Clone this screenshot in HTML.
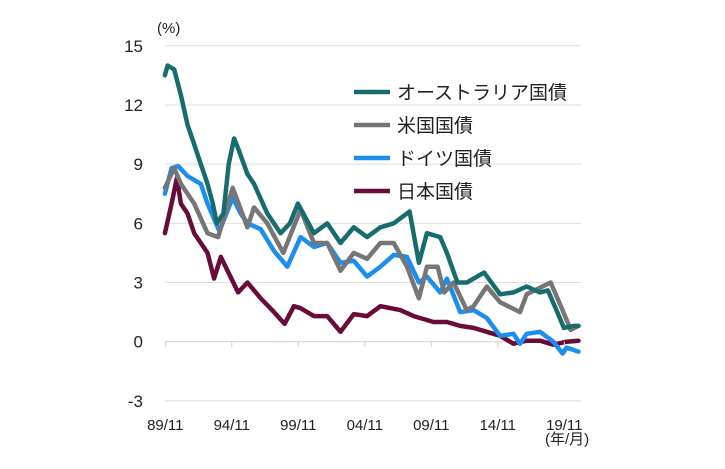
<!DOCTYPE html>
<html><head><meta charset="utf-8"><style>
body{margin:0;background:#fff;}
svg text{font-family:"Liberation Sans","Noto Sans CJK JP",sans-serif;fill:#222;}
</style></head><body>
<svg id="c" width="725" height="464" xmlns="http://www.w3.org/2000/svg">
<g id="grid"></g><g id="lines"></g><g id="axes"></g>
<text x="157" y="33" font-size="15">(%)</text>
<text x="545" y="444" font-size="15">(年/月)</text>
<g id="legend"></g>
</svg>
<script>
const yTicks=[15,12,9,6,3,0,-3];
const xTickLabels=["89/11","94/11","99/11","04/11","09/11","14/11","19/11"];
const xTickYears=[1989.83,1994.83,1999.83,2004.83,2009.83,2014.83,2019.83];
const seriesNames=["オーストラリア国債","米国国債","ドイツ国債","日本国債"];
const colors=["#176d6e","#767676","#1b8ef0","#6a0c3a"];
const ausYears=[1989.8,1990,1990.5,1991,1991.5,1992,1992.5,1993,1993.4,1993.7,1994.2,1994.6,1995,1995.3,1996,1996.5,1997.5,1998.5,1999.2,1999.8,2001,2002,2003,2004,2005,2006,2007,2008.2,2008.9,2009.5,2010.5,2011,2011.8,2012.5,2013.8,2015,2016,2017,2018,2018.6,2019.3,2019.8,2020.5,2020.9];
const ausVals=[13.5,14,13.8,12.5,11,10,9,8,7,6,6.5,9,10.3,9.8,8.5,8,6.5,5.5,6,7,5.5,6,5,5.8,5.3,5.8,6,6.6,4,5.5,5.3,4.5,3,3,3.5,2.4,2.5,2.8,2.5,2.6,1.5,0.7,0.8,0.8];
const usYears=[1989.8,1990.5,1991,1992,1993,1993.8,1994.9,1996,1996.5,1997.5,1998.7,2000,2001,2002,2003,2004,2005,2006,2007,2008,2008.9,2009.5,2010.3,2010.8,2011.5,2012.5,2013,2014,2015,2016.5,2017,2018.8,2019.7,2020.3,2020.9];
const usVals=[7.8,8.8,8,7,5.5,5.3,7.8,5.8,6.8,6,4.5,6.7,5,5,3.6,4.5,4.2,5,5,3.8,2.2,3.8,3.8,2.5,3,1.6,1.8,2.8,2,1.5,2.4,3,1.6,0.6,0.8];
const deYears=[1989.8,1990.3,1990.8,1991.5,1992.5,1993,1993.9,1994.9,1995.5,1996,1997,1998,1999,2000,2001,2002,2003,2004,2005,2006,2007,2008,2008.9,2009.5,2010.5,2011,2012,2013,2014,2015,2016,2016.5,2017,2018,2019,2019.7,2020,2020.9];
const deVals=[7.5,8.8,8.9,8.4,8,7,5.6,7.3,6.5,6,5.7,4.6,3.8,5.3,4.8,5,4,4.1,3.3,3.8,4.4,4.3,3,3.3,2.5,3.2,1.5,1.6,1.2,0.3,0.4,-0.1,0.4,0.5,0,-0.6,-0.3,-0.5];
const jpYears=[1989.8,1990.3,1990.7,1991,1991.5,1992,1993,1993.5,1994,1995.3,1996,1997,1998,1998.8,1999.5,2000,2001,2002,2003,2004,2005,2006,2007.5,2008.5,2010,2011,2012,2013,2014,2015,2016,2017,2018,2019,2020,2020.9];
const jpVals=[5.5,7,8.3,7,6.5,5.5,4.5,3.2,4.3,2.5,3,2.2,1.5,0.9,1.8,1.7,1.3,1.3,0.5,1.4,1.3,1.8,1.6,1.3,1.0,1.0,0.8,0.7,0.5,0.3,-0.1,0.05,0.05,-0.15,0.0,0.05];
const NS="http://www.w3.org/2000/svg";
function X(yr){return 165.3+(yr-1989.83)*13.3;}
function Y(v){return 341.7-v*19.73;}
function mk(tag,attrs,parent){const e=document.createElementNS(NS,tag);for(const k in attrs)e.setAttribute(k,attrs[k]);parent.appendChild(e);return e;}
const grid=document.getElementById('grid'),axes=document.getElementById('axes'),lines=document.getElementById('lines'),legend=document.getElementById('legend');
yTicks.forEach(t=>{
  const l=mk('line',{x1:165,x2:581,y1:Y(t),y2:Y(t),stroke:t===0?'#d0d0d0':'#dedede','stroke-width':1},grid);
  
  
  const tx=mk('text',{x:143,y:Y(t)+6,'font-size':17,'text-anchor':'end'},axes);
  tx.textContent=t;
  
  
});
xTickYears.forEach((yr,i)=>{
  const tk=mk('line',{x1:X(yr),x2:X(yr),y1:341.7,y2:347,stroke:'#d0d0d0'},axes);
  
  
  const tx=mk('text',{x:X(yr),y:430,'font-size':15,'text-anchor':'middle'},axes);
  tx.textContent=xTickLabels[i];
  
  
});
const all=[[ausYears,ausVals],[usYears,usVals],[deYears,deVals],[jpYears,jpVals]];
const names=['line-australia','line-us','line-germany','line-japan'];
for(let s=3;s>=0;s--){
  const [ys,vs]=all[s];
  const d=ys.map((y,i)=>(i?'L':'M')+X(y).toFixed(1)+','+Y(vs[i]).toFixed(1)).join('');
  const p=mk('path',{d:d,fill:'none',stroke:colors[s],'stroke-width':4.5,'stroke-linejoin':'round','stroke-linecap':'round'},lines);
  
  
}
seriesNames.forEach((n,i)=>{
  const y=88+i*33;
  const g=mk('g',{},legend);
  
  
  mk('line',{x1:354,x2:390,y1:y+4,y2:y+4,stroke:colors[i],'stroke-width':4.5},g);
  const t=mk('text',{x:397,y:y+11,'font-size':19},g);
  t.textContent=n;
});
</script>
</body></html>
